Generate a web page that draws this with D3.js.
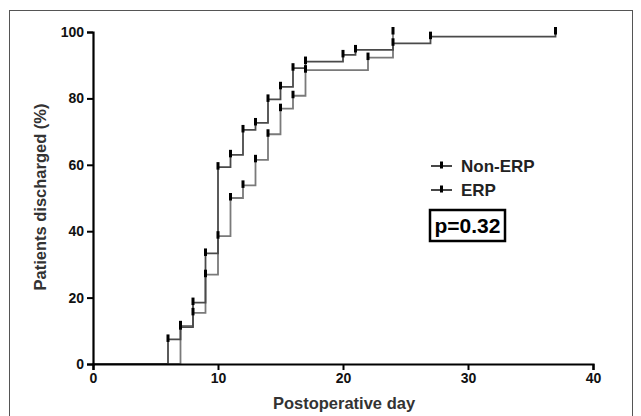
<!DOCTYPE html>
<html>
<head>
<meta charset="utf-8">
<script src="https://cdn.jsdelivr.net/npm/d3@7"></script>
<style>
  html, body { margin: 0; padding: 0; background: #fff; }
  svg { display: block; }
  .tick text { font-family: "Liberation Sans", Arial, sans-serif; font-weight: bold; font-size: 14px; fill: #111; }
</style>
</head>
<body>
<svg id="chart" width="641" height="416"></svg>
<script>
// Cumulative proportion discharged (%) by postoperative day
const nonErpDays = [0, 6, 7, 8, 9, 10, 11, 12, 13, 14, 15, 16, 17, 20, 21, 24, 27, 37];
const nonErpPct  = [0, 7.4, 11.1, 18.5, 33.3, 59.3, 63.0, 70.5, 72.6, 79.7, 83.5, 89.1, 91.1, 93.1, 94.6, 96.6, 98.6, 100];

const erpDays = [0, 7, 8, 9, 10, 11, 12, 13, 14, 15, 16, 17, 22, 24];
const erpPct  = [0, 11.5, 15.4, 26.9, 38.5, 50.0, 53.8, 61.5, 69.2, 76.9, 80.8, 88.5, 92.3, 100];

const seriesNames = ["Non-ERP", "ERP"];
const xTicks = [0, 10, 20, 30, 40];
const yTicks = [0, 20, 40, 60, 80, 100];
const pValueText = "p=0.32";

const svg = d3.select("#chart");

// outer frame
svg.append("rect")
  .attr("x", 9.5).attr("y", 10.5).attr("width", 623).attr("height", 420)
  .attr("fill", "none").attr("stroke", "#555").attr("stroke-width", 1);

const x = d3.scaleLinear().domain([0, 40]).range([93, 593]);
const y = d3.scaleLinear().domain([0, 100]).range([364, 32]);

const series = [
  { name: seriesNames[0], days: nonErpDays, pct: nonErpPct, color: "#4a4a4a" },
  { name: seriesNames[1], days: erpDays, pct: erpPct, color: "#7a7a7a" }
];

const line = d3.line()
  .x(d => x(d[0]))
  .y(d => y(d[1]))
  .curve(d3.curveStepAfter);

// step curves, lighter first so the darker sits on top
[series[1], series[0]].forEach(s => {
  const pts = s.days.map((d, i) => [d, s.pct[i]]);
  svg.append("path")
    .datum(pts)
    .attr("d", line)
    .attr("fill", "none")
    .attr("stroke", s.color)
    .attr("stroke-width", 1.8);
});

// axes
const xAxis = d3.axisBottom(x).tickValues(xTicks).tickSize(6).tickPadding(3).tickFormat(d3.format("d"));
const yAxis = d3.axisLeft(y).tickValues(yTicks).tickSize(6).tickPadding(3).tickFormat(d3.format("d"));

const gx = svg.append("g").attr("transform", "translate(0,364)").call(xAxis);
const gy = svg.append("g").attr("transform", "translate(93,0)").call(yAxis);
[gx, gy].forEach(g => {
  g.select(".domain").attr("stroke", "#000").attr("stroke-width", 2.2);
  g.selectAll(".tick line").attr("stroke", "#000").attr("stroke-width", 2);
});

// censor marks at each step
series.forEach(s => {
  svg.append("g").selectAll("rect")
    .data(s.days.map((d, i) => [d, s.pct[i]]).filter(p => p[0] > 0))
    .join("rect")
    .attr("x", d => x(d[0]) - 1.5)
    .attr("y", d => y(d[1]) - 5)
    .attr("width", 3)
    .attr("height", 7.5)
    .attr("fill", "#000");
});

// axis titles
svg.append("text")
  .attr("x", 344).attr("y", 409)
  .attr("text-anchor", "middle")
  .attr("font-family", "Liberation Sans, Arial, sans-serif")
  .attr("font-weight", "bold")
  .attr("font-size", 16.5)
  .attr("fill", "#333")
  .text("Postoperative day");

svg.append("text")
  .attr("transform", "translate(46,197) rotate(-90)")
  .attr("text-anchor", "middle")
  .attr("font-family", "Liberation Sans, Arial, sans-serif")
  .attr("font-weight", "bold")
  .attr("font-size", 16.5)
  .attr("fill", "#333")
  .text("Patients discharged (%)");

// legend
const legend = svg.append("g");
series.forEach((s, i) => {
  const ly = 166 + i * 24;
  legend.append("line")
    .attr("x1", 431).attr("x2", 452).attr("y1", ly).attr("y2", ly)
    .attr("stroke", "#333").attr("stroke-width", 1.8);
  legend.append("rect")
    .attr("x", 440).attr("y", ly - 4.5).attr("width", 3).attr("height", 7)
    .attr("fill", "#000");
  legend.append("text")
    .attr("x", 461).attr("y", ly + 6)
    .attr("font-family", "Liberation Sans, Arial, sans-serif")
    .attr("font-weight", "bold")
    .attr("font-size", 17)
    .attr("fill", "#222")
    .text(s.name);
});

svg.append("rect")
  .attr("x", 430).attr("y", 210).attr("width", 75).attr("height", 31)
  .attr("fill", "none").attr("stroke", "#000").attr("stroke-width", 2.5);
svg.append("text")
  .attr("x", 467.5).attr("y", 233)
  .attr("text-anchor", "middle")
  .attr("font-family", "Liberation Sans, Arial, sans-serif")
  .attr("font-weight", "bold")
  .attr("font-size", 21)
  .attr("fill", "#000")
  .text(pValueText);
</script>
</body>
</html>
